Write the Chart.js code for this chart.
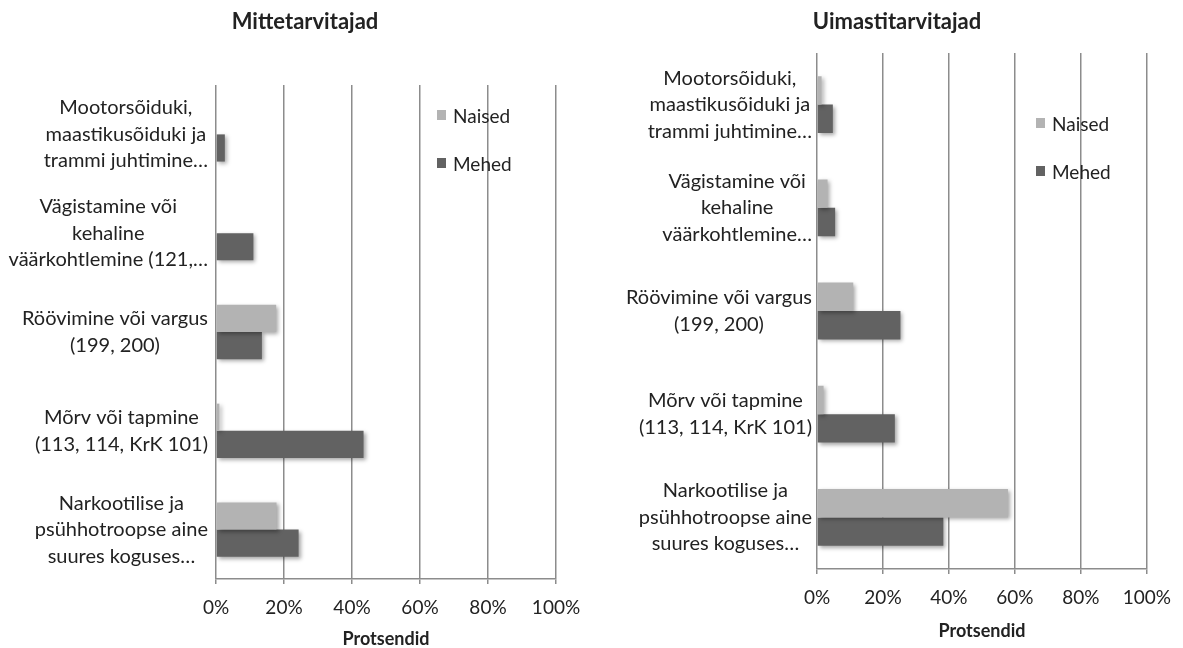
<!DOCTYPE html>
<html>
<head>
<meta charset="utf-8">
<script src="https://cdn.jsdelivr.net/npm/chart.js@4.4.1/dist/chart.umd.min.js"></script>
<style>
  body { margin: 0; background: #fff; width: 1183px; height: 648px; overflow: hidden; position: relative; font-family: Lato, sans-serif; }
  .box { position: absolute; top: 0; height: 648px; }
  .leg { position: absolute; height: 20px; display: flex; align-items: center; font-size: 19px; color: #222; }
  .leg i { display: inline-block; width: 9px; height: 10px; margin-right: 7px; }
</style>
</head>
<body>
<div class="box" style="left:0;width:610px"><canvas id="left"></canvas></div>
<div class="box" style="left:610px;width:573px"><canvas id="right"></canvas></div>

<div class="leg" style="left:437px;top:105px"><i style="background:#b3b3b3"></i>Naised</div>
<div class="leg" style="left:437px;top:153px"><i style="background:#626262"></i>Mehed</div>
<div class="leg" style="left:1036px;top:113px"><i style="background:#b3b3b3"></i>Naised</div>
<div class="leg" style="left:1036px;top:161px"><i style="background:#626262"></i>Mehed</div>

<script>
// kategooriad (y-telg)
const categoriesLeft = [
  ['Mootorsõiduki,', 'maastikusõiduki ja', 'trammi juhtimine…'],
  ['Vägistamine või', 'kehaline', 'väärkohtlemine (121,…'],
  ['Röövimine või vargus', '(199, 200)'],
  ['Mõrv või tapmine', '(113, 114, KrK 101)'],
  ['Narkootilise ja', 'psühhotroopse aine', 'suures koguses…']
];
const categoriesRight = [
  ['Mootorsõiduki,', 'maastikusõiduki ja', 'trammi juhtimine…'],
  ['Vägistamine või', 'kehaline', 'väärkohtlemine…'],
  ['Röövimine või vargus', '(199, 200)'],
  ['Mõrv või tapmine', '(113, 114, KrK 101)'],
  ['Narkootilise ja', 'psühhotroopse aine', 'suures koguses…']
];

// Mittetarvitajad
const naisedNon = [0, 0, 17.7, 1, 17.8];
const mehedNon = [2.6, 11, 13.5, 43.4, 24.3];
// Uimastitarvitajad
const naisedUser = [1.4, 3.2, 11, 2, 57.9];
const mehedUser = [4.8, 5.5, 25.3, 23.6, 38.3];

const xMax = 100;
const xStep = 20;

Chart.defaults.font.family = 'Lato';
Chart.defaults.color = '#222';

const GRID = '#8c8c8c';
const LIGHT = '#b3b3b3';
const DARK = '#626262';

// Excel-like shadow behind bars
const barShadow = {
  id: 'barShadow',
  beforeDatasetsDraw(chart) {
    const c = chart.ctx;
    c.save();
    c.shadowColor = 'rgba(0,0,0,0.35)';
    c.shadowBlur = 4;
    c.shadowOffsetX = 2;
    c.shadowOffsetY = 2;
  },
  afterDatasetsDraw(chart) {
    chart.ctx.restore();
  }
};

// category labels: block right-aligned, lines centered
const blockLabels = {
  id: 'blockLabels',
  afterDraw(chart, args, opts) {
    const ctx = chart.ctx;
    const y = chart.scales.y;
    ctx.save();
    ctx.font = '20px Lato';
    ctx.fillStyle = '#222';
    ctx.textAlign = 'center';
    ctx.textBaseline = 'middle';
    chart.data.labels.forEach((lines, i) => {
      const w = Math.max(...lines.map(s => ctx.measureText(s).width));
      const cx = chart.chartArea.left - opts.gap - w / 2;
      const cy = y.getPixelForValue(i);
      lines.forEach((s, k) => {
        ctx.fillText(s, cx, cy + (k - (lines.length - 1) / 2) * opts.lineHeight);
      });
    });
    ctx.restore();
  }
};

function makeChart(id, title, labels, naised, mehed, cfg) {
  return new Chart(document.getElementById(id), {
    type: 'bar',
    data: {
      labels: labels,
      datasets: [
        { label: 'Naised', data: naised, backgroundColor: LIGHT },
        { label: 'Mehed', data: mehed, backgroundColor: DARK }
      ]
    },
    options: {
      indexAxis: 'y',
      responsive: true,
      maintainAspectRatio: false,
      animation: false,
      layout: { padding: { left: cfg.padLeft, right: cfg.padRight, top: 0, bottom: 0 } },
      datasets: { bar: { barPercentage: 1, categoryPercentage: 0.55 } },
      plugins: {
        legend: { display: false },
        tooltip: { enabled: false },
        title: {
          display: true,
          text: title,
          font: { size: 22, weight: 'bold' },
          color: '#222',
          padding: { top: 8.8, bottom: cfg.titleBottom }
        },
        blockLabels: { gap: cfg.gap, lineHeight: 26.5 }
      },
      scales: {
        x: {
          min: 0,
          max: xMax,
          ticks: {
            stepSize: xStep,
            callback: v => v + '%',
            font: { size: 19 },
            color: '#222',
            padding: 12
          },
          grid: { color: GRID, lineWidth: 1.5, tickLength: 5, tickColor: GRID },
          border: { display: true, color: GRID, width: 1.5 },
          title: {
            display: true,
            text: 'Protsendid',
            font: { size: 18, weight: 'bold', lineHeight: 1 },
            color: '#222',
            padding: { top: 0, bottom: cfg.axisTitleBottom }
          },
          afterFit(scale) { scale.height = cfg.xHeight; }
        },
        y: {
          ticks: { display: false },
          grid: { display: false },
          border: { display: false },
          afterFit(scale) { scale.width = cfg.yWidth; }
        }
      }
    },
    plugins: [barShadow, blockLabels]
  });
}

makeChart('left', 'Mittetarvitajad', categoriesLeft, naisedNon, mehedNon,
  { padLeft: 54, padRight: 54, titleBottom: 49.8, xHeight: 69, yWidth: 162, gap: 8, axisTitleBottom: 0 });
makeChart('right', 'Uimastitarvitajad', categoriesRight, naisedUser, mehedUser,
  { padLeft: 32, padRight: 31, titleBottom: 17.8, xHeight: 79, yWidth: 175, gap: 5, axisTitleBottom: 8 });
</script>
</body>
</html>
